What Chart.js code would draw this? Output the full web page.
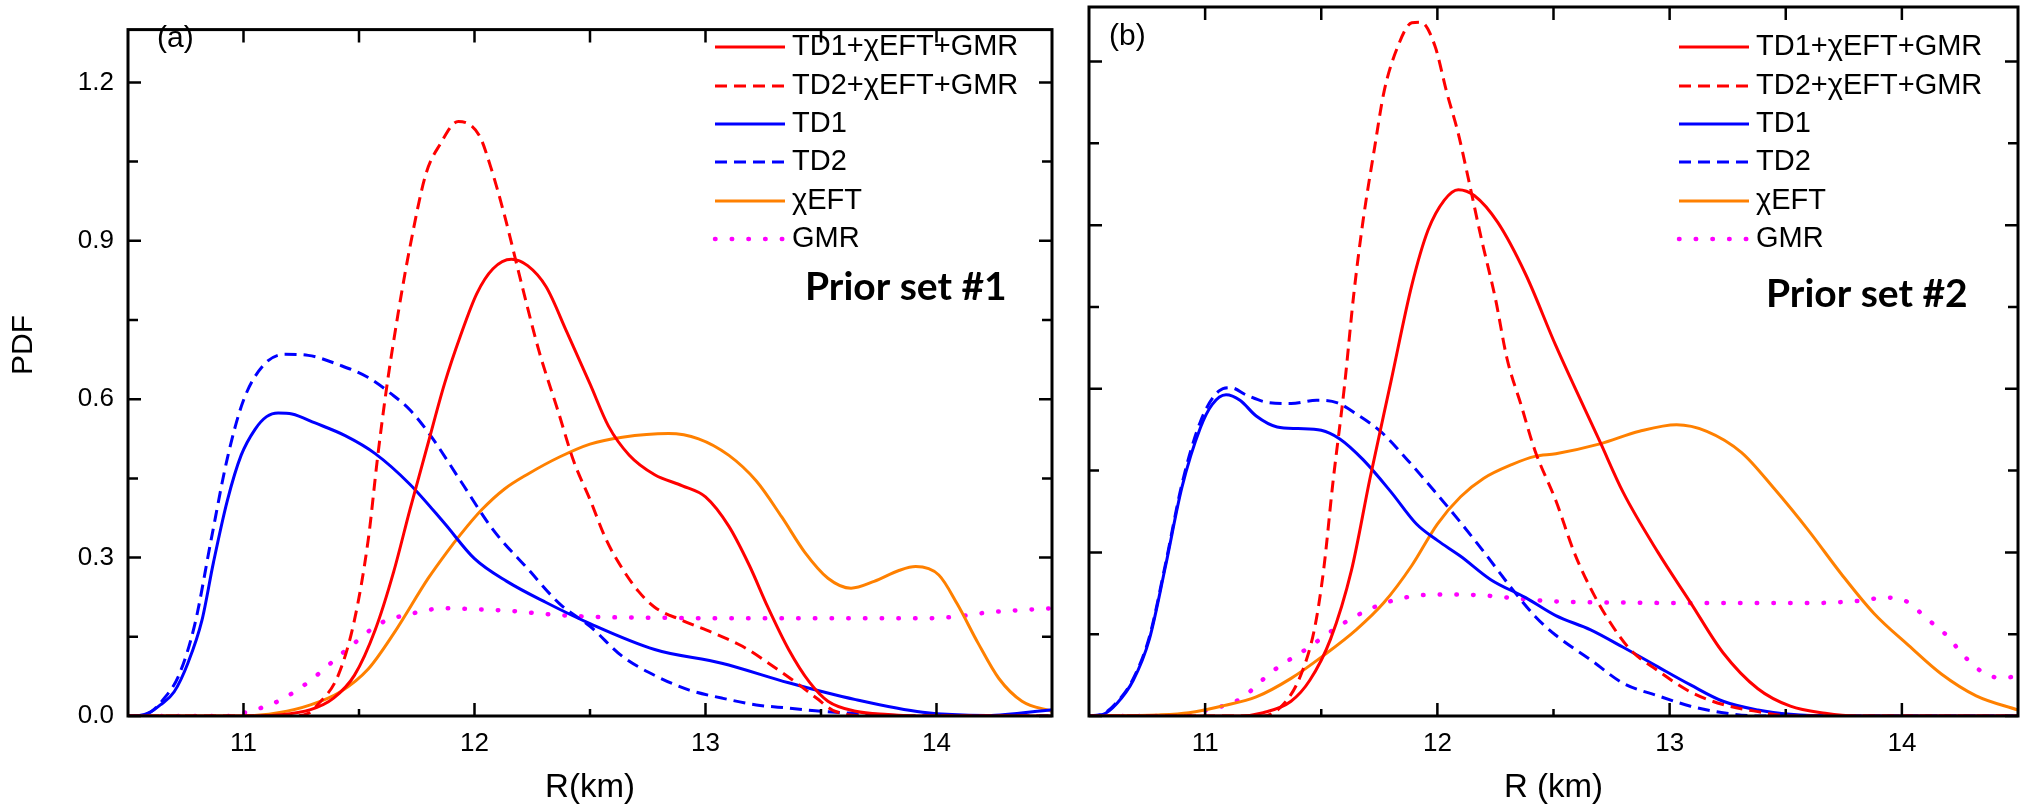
<!DOCTYPE html>
<html>
<head>
<meta charset="utf-8">
<script src="https://cdn.jsdelivr.net/npm/chart.js@4"></script>
<style>
  body { margin: 0; background: #fff; }
  #wrapA { position: absolute; left: 0; top: 0; width: 1060px; height: 808px; }
  #wrapB { position: absolute; left: 1060px; top: 0; width: 960px; height: 808px; }
</style>
</head>
<body>
<div id="wrapA"><canvas id="chartA" width="1060" height="808"></canvas></div>
<div id="wrapB"><canvas id="chartB" width="960" height="808"></canvas></div>
<script>
// etiquetas de las series (leyenda)
const labels = ['TD1+χEFT+GMR', 'TD2+χEFT+GMR', 'TD1', 'TD2', 'χEFT', 'GMR'];

// ticks de los ejes
const xMajor = [11, 12, 13, 14];
const xMinor = [11.5, 12.5, 13.5];
const yMajor = [0, 0.3, 0.6, 0.9, 1.2];
const yMinor = [0.15, 0.45, 0.75, 1.05];

// ---- panel (a): Prior set #1 ----
const aRed1_R = [10.5, 11.0, 11.15, 11.29, 11.39, 11.48, 11.57, 11.65, 11.72, 11.8, 11.87, 11.94, 12.01, 12.08, 12.16, 12.23, 12.31, 12.4, 12.5, 12.58, 12.67, 12.78, 12.9, 13.0, 13.1, 13.19, 13.27, 13.36, 13.45, 13.53, 13.65, 13.79, 13.94, 14.5];
const aRed1   = [0, 0, 0.002, 0.012, 0.034, 0.077, 0.163, 0.273, 0.39, 0.518, 0.629, 0.721, 0.80, 0.847, 0.865, 0.853, 0.813, 0.727, 0.629, 0.549, 0.494, 0.457, 0.436, 0.415, 0.36, 0.285, 0.206, 0.126, 0.064, 0.028, 0.009, 0.003, 0, 0];

const aRed2_R = [10.5, 11.2, 11.28, 11.32, 11.41, 11.48, 11.54, 11.58, 11.62, 11.67, 11.72, 11.79, 11.85, 11.93, 12.02, 12.07, 12.13, 12.2, 12.28, 12.36, 12.43, 12.5, 12.57, 12.64, 12.71, 12.78, 12.9, 13.04, 13.16, 13.27, 13.39, 13.48, 13.56, 13.72, 14.5];
const aRed2   = [0, 0, 0.005, 0.021, 0.077, 0.181, 0.334, 0.488, 0.623, 0.764, 0.887, 1.027, 1.082, 1.126, 1.10, 1.04, 0.948, 0.825, 0.69, 0.58, 0.482, 0.41, 0.334, 0.279, 0.236, 0.206, 0.181, 0.156, 0.132, 0.101, 0.064, 0.034, 0.009, 0, 0];

const aTD1_R = [10.5, 10.55, 10.59, 10.64, 10.7, 10.76, 10.82, 10.87, 10.93, 10.99, 11.05, 11.1, 11.15, 11.21, 11.31, 11.44, 11.57, 11.72, 11.87, 12.0, 12.14, 12.31, 12.5, 12.78, 13.07, 13.36, 13.65, 13.94, 14.22, 14.5];
const aTD1   = [0, 0.001, 0.006, 0.021, 0.046, 0.101, 0.181, 0.291, 0.408, 0.494, 0.543, 0.567, 0.574, 0.572, 0.555, 0.531, 0.497, 0.439, 0.365, 0.298, 0.255, 0.215, 0.175, 0.126, 0.1, 0.063, 0.031, 0.007, 0.001, 0.012];

const aTD2_R = [10.5, 10.55, 10.6, 10.65, 10.72, 10.79, 10.86, 10.93, 11.0, 11.09, 11.18, 11.28, 11.42, 11.54, 11.64, 11.72, 11.81, 11.94, 12.08, 12.23, 12.37, 12.5, 12.64, 12.78, 12.93, 13.07, 13.22, 13.36, 13.5, 13.65, 13.94, 14.5];
const aTD2   = [0, 0.001, 0.008, 0.03, 0.077, 0.175, 0.334, 0.488, 0.598, 0.666, 0.685, 0.683, 0.664, 0.641, 0.61, 0.58, 0.531, 0.445, 0.353, 0.279, 0.212, 0.17, 0.113, 0.077, 0.049, 0.034, 0.021, 0.015, 0.009, 0.005, 0, 0];

const aEFT_R = [10.5, 11.0, 11.15, 11.29, 11.42, 11.54, 11.65, 11.8, 11.88, 11.94, 12.03, 12.13, 12.23, 12.37, 12.5, 12.64, 12.84, 12.97, 13.1, 13.22, 13.33, 13.43, 13.53, 13.63, 13.73, 13.84, 13.91, 14.01, 14.09, 14.18, 14.27, 14.37, 14.5];
const aEFT   = [0, 0, 0.006, 0.021, 0.046, 0.089, 0.156, 0.261, 0.31, 0.344, 0.39, 0.43, 0.458, 0.491, 0.515, 0.528, 0.535, 0.525, 0.494, 0.445, 0.377, 0.31, 0.261, 0.242, 0.255, 0.276, 0.283, 0.267, 0.212, 0.138, 0.071, 0.028, 0.009];

const aGMR_R = [10.5, 10.93, 11.0, 11.15, 11.28, 11.38, 11.48, 11.59, 11.72, 11.87, 12.01, 12.16, 12.31, 12.5, 12.8, 13.2, 13.6, 13.94, 14.08, 14.22, 14.5];
const aGMR   = [0, 0, 0.006, 0.028, 0.064, 0.101, 0.138, 0.175, 0.193, 0.204, 0.202, 0.199, 0.193, 0.188, 0.186, 0.185, 0.185, 0.185, 0.188, 0.196, 0.204];

// ---- panel (b): Prior set #2 ----
const bRed1_R = [10.5, 11.15, 11.25, 11.37, 11.45, 11.54, 11.63, 11.71, 11.8, 11.89, 11.96, 12.03, 12.09, 12.16, 12.26, 12.38, 12.51, 12.7, 12.8, 12.95, 13.09, 13.23, 13.38, 13.52, 13.67, 13.8, 14.5];
const bRed1   = [0, 0, 0.006, 0.027, 0.065, 0.141, 0.267, 0.436, 0.613, 0.79, 0.891, 0.946, 0.965, 0.954, 0.905, 0.81, 0.679, 0.503, 0.41, 0.3, 0.208, 0.116, 0.05, 0.018, 0.005, 0, 0];

const bRed2_R = [10.5, 11.25, 11.34, 11.41, 11.47, 11.51, 11.55, 11.6, 11.64, 11.68, 11.73, 11.77, 11.83, 11.89, 11.93, 11.99, 12.04, 12.09, 12.13, 12.19, 12.25, 12.3, 12.36, 12.42, 12.51, 12.59, 12.66, 12.73, 12.83, 12.95, 13.09, 13.23, 13.38, 13.52, 14.5];
const bRed2   = [0, 0, 0.023, 0.073, 0.158, 0.267, 0.427, 0.605, 0.773, 0.908, 1.043, 1.144, 1.228, 1.271, 1.272, 1.228, 1.144, 1.068, 0.992, 0.874, 0.765, 0.655, 0.571, 0.487, 0.395, 0.299, 0.234, 0.181, 0.122, 0.083, 0.044, 0.021, 0.008, 0, 0];

const bTD1_R = [10.5, 10.56, 10.62, 10.69, 10.76, 10.83, 10.9, 10.98, 11.03, 11.09, 11.15, 11.22, 11.31, 11.4, 11.5, 11.58, 11.68, 11.8, 11.91, 12.0, 12.1, 12.23, 12.38, 12.51, 12.66, 12.8, 12.95, 13.09, 13.23, 13.38, 13.52, 13.7, 14.5];
const bTD1   = [0, 0.003, 0.023, 0.065, 0.141, 0.276, 0.419, 0.529, 0.571, 0.589, 0.579, 0.55, 0.53, 0.527, 0.524, 0.508, 0.47, 0.411, 0.352, 0.322, 0.293, 0.25, 0.217, 0.184, 0.158, 0.126, 0.09, 0.057, 0.027, 0.011, 0.003, 0, 0];

const bTD2_R = [10.5, 10.56, 10.62, 10.69, 10.76, 10.83, 10.9, 10.98, 11.06, 11.11, 11.18, 11.27, 11.37, 11.48, 11.57, 11.65, 11.76, 11.87, 11.99, 12.09, 12.2, 12.32, 12.42, 12.51, 12.66, 12.8, 12.95, 13.09, 13.23, 13.38, 14.5];
const bTD2   = [0, 0.004, 0.025, 0.068, 0.145, 0.28, 0.425, 0.54, 0.596, 0.602, 0.588, 0.575, 0.573, 0.579, 0.574, 0.554, 0.52, 0.47, 0.411, 0.36, 0.301, 0.234, 0.183, 0.148, 0.103, 0.06, 0.037, 0.018, 0.006, 0, 0];

const bEFT_R = [10.5, 10.8, 10.93, 11.08, 11.22, 11.37, 11.51, 11.65, 11.77, 11.89, 12.0, 12.1, 12.2, 12.32, 12.42, 12.51, 12.7, 12.87, 13.03, 13.16, 13.31, 13.45, 13.6, 13.74, 13.88, 14.03, 14.17, 14.32, 14.5];
const bEFT   = [0, 0.002, 0.006, 0.019, 0.035, 0.069, 0.111, 0.158, 0.208, 0.276, 0.352, 0.402, 0.436, 0.461, 0.476, 0.481, 0.499, 0.522, 0.534, 0.522, 0.483, 0.417, 0.339, 0.26, 0.188, 0.129, 0.077, 0.037, 0.011];

const bGMR_R = [10.5, 10.9, 11.0, 11.15, 11.29, 11.44, 11.58, 11.73, 11.87, 12.03, 12.2, 12.38, 12.51, 12.8, 13.2, 13.6, 13.81, 13.93, 14.03, 14.1, 14.19, 14.27, 14.36, 14.43, 14.5];
const bGMR   = [0, 0, 0.01, 0.031, 0.082, 0.124, 0.166, 0.2, 0.218, 0.223, 0.221, 0.214, 0.21, 0.208, 0.207, 0.207, 0.211, 0.217, 0.208, 0.181, 0.149, 0.109, 0.077, 0.07, 0.073];

const fontSans = '"Liberation Sans", Arial, sans-serif';

function pts(rs, vs){
    return rs.map((r, i) => ({x: r, y: vs[i]}));
}

// estilo de cada curva, en el orden de la leyenda
const estilos = [
    {color: '#ff0000', dash: [], width: 3, cap: 'butt'},
    {color: '#ff0000', dash: [12, 7], width: 3, cap: 'butt'},
    {color: '#0000ff', dash: [], width: 3, cap: 'butt'},
    {color: '#0000ff', dash: [12, 7], width: 3, cap: 'butt'},
    {color: '#ff8000', dash: [], width: 3, cap: 'butt'},
    {color: '#ff00ff', dash: [0.5, 16.2], width: 4.5, cap: 'round'}
];

function makeDatasets(series){
    return series.map((s, i) => ({
        label: labels[i],
        data: pts(s[0], s[1]),
        borderColor: estilos[i].color,
        borderDash: estilos[i].dash,
        borderWidth: estilos[i].width,
        borderCapStyle: estilos[i].cap,
        pointRadius: 0,
        fill: false,
        cubicInterpolationMode: 'monotone'
    }));
}

// marco con ticks hacia adentro en los cuatro lados
const marco = {
    id: 'marco',
    afterDatasetsDraw(chart){
        const {ctx, chartArea: a, scales: {x, y}} = chart;
        ctx.save();
        ctx.strokeStyle = '#000';
        ctx.lineWidth = 2.5;
        ctx.beginPath();
        xMajor.concat(xMinor).forEach(v => {
            const px = x.getPixelForValue(v);
            const big = xMajor.includes(v);
            ctx.moveTo(px, a.bottom); ctx.lineTo(px, a.bottom - (big ? 13 : 7));
            ctx.moveTo(px, a.top); ctx.lineTo(px, a.top + 13);
        });
        yMajor.concat(yMinor).forEach(v => {
            const py = y.getPixelForValue(v);
            const len = yMajor.includes(v) ? 13 : 10;
            ctx.moveTo(a.left, py); ctx.lineTo(a.left + len, py);
            ctx.moveTo(a.right, py); ctx.lineTo(a.right - len, py);
        });
        ctx.stroke();
        ctx.lineWidth = 3;
        ctx.strokeRect(a.left, a.top, a.right - a.left, a.bottom - a.top);
        ctx.restore();
    }
};

// leyenda, letra del panel y texto "Prior set"
const anotaciones = {
    id: 'anotaciones',
    afterDraw(chart, args, o){
        const {ctx, chartArea: a} = chart;
        ctx.save();
        const legY = [47, 86, 124, 162, 201, 239];
        chart.data.datasets.forEach((ds, i) => {
            ctx.strokeStyle = ds.borderColor;
            ctx.lineWidth = ds.borderWidth;
            ctx.setLineDash(ds.borderDash);
            ctx.lineCap = ds.borderCapStyle;
            ctx.beginPath();
            ctx.moveTo(a.right - o.legDx, legY[i]);
            ctx.lineTo(a.right - o.legDx + 70, legY[i]);
            ctx.stroke();
            ctx.setLineDash([]);
            ctx.fillStyle = '#000';
            ctx.font = '29px ' + fontSans;
            ctx.textBaseline = 'middle';
            ctx.textAlign = 'left';
            ctx.fillText(ds.label, a.right - o.legDx + 77, legY[i]);
        });
        ctx.textBaseline = 'alphabetic';
        ctx.font = '30px ' + fontSans;
        ctx.fillText(o.letter, a.left + o.letterDx, o.letterY);
        ctx.font = 'bold 39px Lato, "Open Sans", sans-serif';
        ctx.fillText(o.prior, a.right - o.priorDx, o.priorY);
        if (o.yTitle){
            ctx.translate(24, 345);
            ctx.rotate(-Math.PI / 2);
            ctx.font = '30px ' + fontSans;
            ctx.textAlign = 'center';
            ctx.textBaseline = 'middle';
            ctx.fillText(o.yTitle, 0, 0);
        }
        ctx.restore();
    }
};

function generarPanel(id, series, xTitle, yWidth, rightPad, showY, anot){
    const ctx = document.getElementById(id).getContext('2d');
    return new Chart(ctx, {
        type: 'line',
        data: { datasets: makeDatasets(series) },
        options: {
            responsive: false,
            animation: false,
            layout: { padding: { top: 7, right: rightPad, bottom: 0, left: 0 } },
            plugins: { legend: { display: false }, tooltip: { enabled: false }, anotaciones: anot },
            scales: {
                x: {
                    type: 'linear', min: 10.5, max: 14.5,
                    afterBuildTicks: s => { s.ticks = xMajor.map(v => ({value: v})); },
                    afterFit: s => { s.height = 92; },
                    grid: { display: false, drawTicks: false },
                    border: { display: false },
                    ticks: { padding: 12, color: '#000', font: { family: fontSans, size: 26 }, callback: v => String(v) },
                    title: { display: true, text: xTitle, color: '#000', font: { family: fontSans, size: 33 }, padding: { top: 0, bottom: 0 } }
                },
                y: {
                    type: 'linear', min: 0, max: 1.3,
                    afterBuildTicks: s => { s.ticks = yMajor.map(v => ({value: v})); },
                    afterFit: s => { s.width = yWidth; },
                    grid: { display: false, drawTicks: false },
                    border: { display: false },
                    ticks: { display: showY, padding: 14, color: '#000', font: { family: fontSans, size: 26 }, callback: v => v.toFixed(1) }
                }
            }
        },
        plugins: [marco, anotaciones]
    });
}

generarPanel('chartA',
    [[aRed1_R, aRed1], [aRed2_R, aRed2], [aTD1_R, aTD1], [aTD2_R, aTD2], [aEFT_R, aEFT], [aGMR_R, aGMR]],
    'R(km)', 128, 8, true,
    {legDx: 337, letter: '(a)', letterDx: 29, letterY: 47, prior: 'Prior set #1', priorDx: 247, priorY: 300, yTitle: 'PDF'});

generarPanel('chartB',
    [[bRed1_R, bRed1], [bRed2_R, bRed2], [bTD1_R, bTD1], [bTD2_R, bTD2], [bEFT_R, bEFT], [bGMR_R, bGMR]],
    'R (km)', 29, 2, false,
    {legDx: 339, letter: '(b)', letterDx: 20, letterY: 45, prior: 'Prior set #2', priorDx: 252, priorY: 307, yTitle: null});
</script>
</body>
</html>
